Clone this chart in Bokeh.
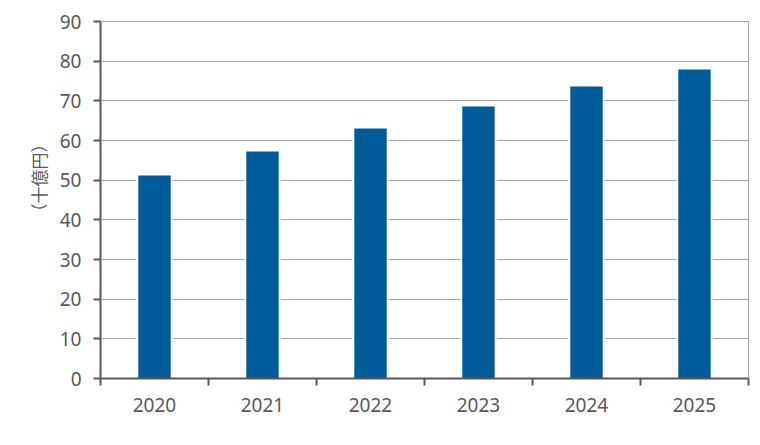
from bokeh.plotting import figure
from bokeh.models import FixedTicker, Range1d, Title, ColumnDataSource
from bokeh.embed import file_html
from bokeh.resources import INLINE

years = ["2020", "2021", "2022", "2023", "2024", "2025"]
values = [51.2, 57.2, 63.0, 68.6, 73.6, 77.9]
y_ticks = [0, 10, 20, 30, 40, 50, 60, 70, 80, 90]
y_label = "（十億円）"

BAR = "#005B9A"
TXT = "#595959"
GRID = "#A6A6A6"
FONT = "Noto Sans"

xs = [i + 0.5 for i in range(len(years))]
src = ColumnDataSource(dict(x=xs, top=values))

p = figure(width=752, height=437, output_backend="svg", toolbar_location=None,
           x_range=Range1d(0, len(years)), y_range=Range1d(0, 90),
           min_border_left=100, min_border_right=4, min_border_top=21, min_border_bottom=59)
p.background_fill_color = "white"
p.border_fill_color = "white"
p.outline_line_color = GRID
p.outline_line_width = 1

# white halo behind bars (gap in grid lines), then the bars
p.vbar(x="x", top="top", width=0.34, bottom=0, source=src,
       fill_color="white", line_color=None)
p.vbar(x="x", top="top", width=0.3, bottom=0, source=src,
       fill_color=BAR, line_color=None)

# x axis
p.xaxis.ticker = FixedTicker(ticks=xs, minor_ticks=list(range(len(years) + 1)))
p.xaxis.major_label_overrides = {x: y for x, y in zip(xs, years)}
p.xaxis.major_tick_out = 0
p.xaxis.major_tick_in = 0
p.xaxis.minor_tick_out = 7
p.xaxis.minor_tick_in = 0
p.xaxis.minor_tick_line_color = TXT
p.xaxis.minor_tick_line_width = 2
p.xaxis.axis_line_color = TXT
p.xaxis.axis_line_width = 2
p.xaxis.major_label_text_font = FONT
p.xaxis.major_label_text_font_size = "19px"
p.xaxis.major_label_text_color = TXT
p.xaxis.major_label_standoff = 12

# y axis
p.yaxis.ticker = FixedTicker(ticks=y_ticks, minor_ticks=[])
p.yaxis.major_tick_out = 7
p.yaxis.major_tick_in = 0
p.yaxis.major_tick_line_color = TXT
p.yaxis.major_tick_line_width = 2
p.yaxis.axis_line_color = TXT
p.yaxis.axis_line_width = 2
p.yaxis.major_label_text_font = FONT
p.yaxis.major_label_text_font_size = "19px"
p.yaxis.major_label_text_color = TXT
p.yaxis.major_label_standoff = 12

p.xgrid.grid_line_color = None
p.ygrid.grid_line_color = GRID
p.ygrid.grid_line_width = 1

ttl = Title(text=y_label, align="right", offset=114, standoff=12,
            text_font="Noto Sans CJK JP", text_font_size="17px",
            text_font_style="normal", text_color=TXT)
p.add_layout(ttl, "left")

open("out.html", "w").write(file_html(p, INLINE))
